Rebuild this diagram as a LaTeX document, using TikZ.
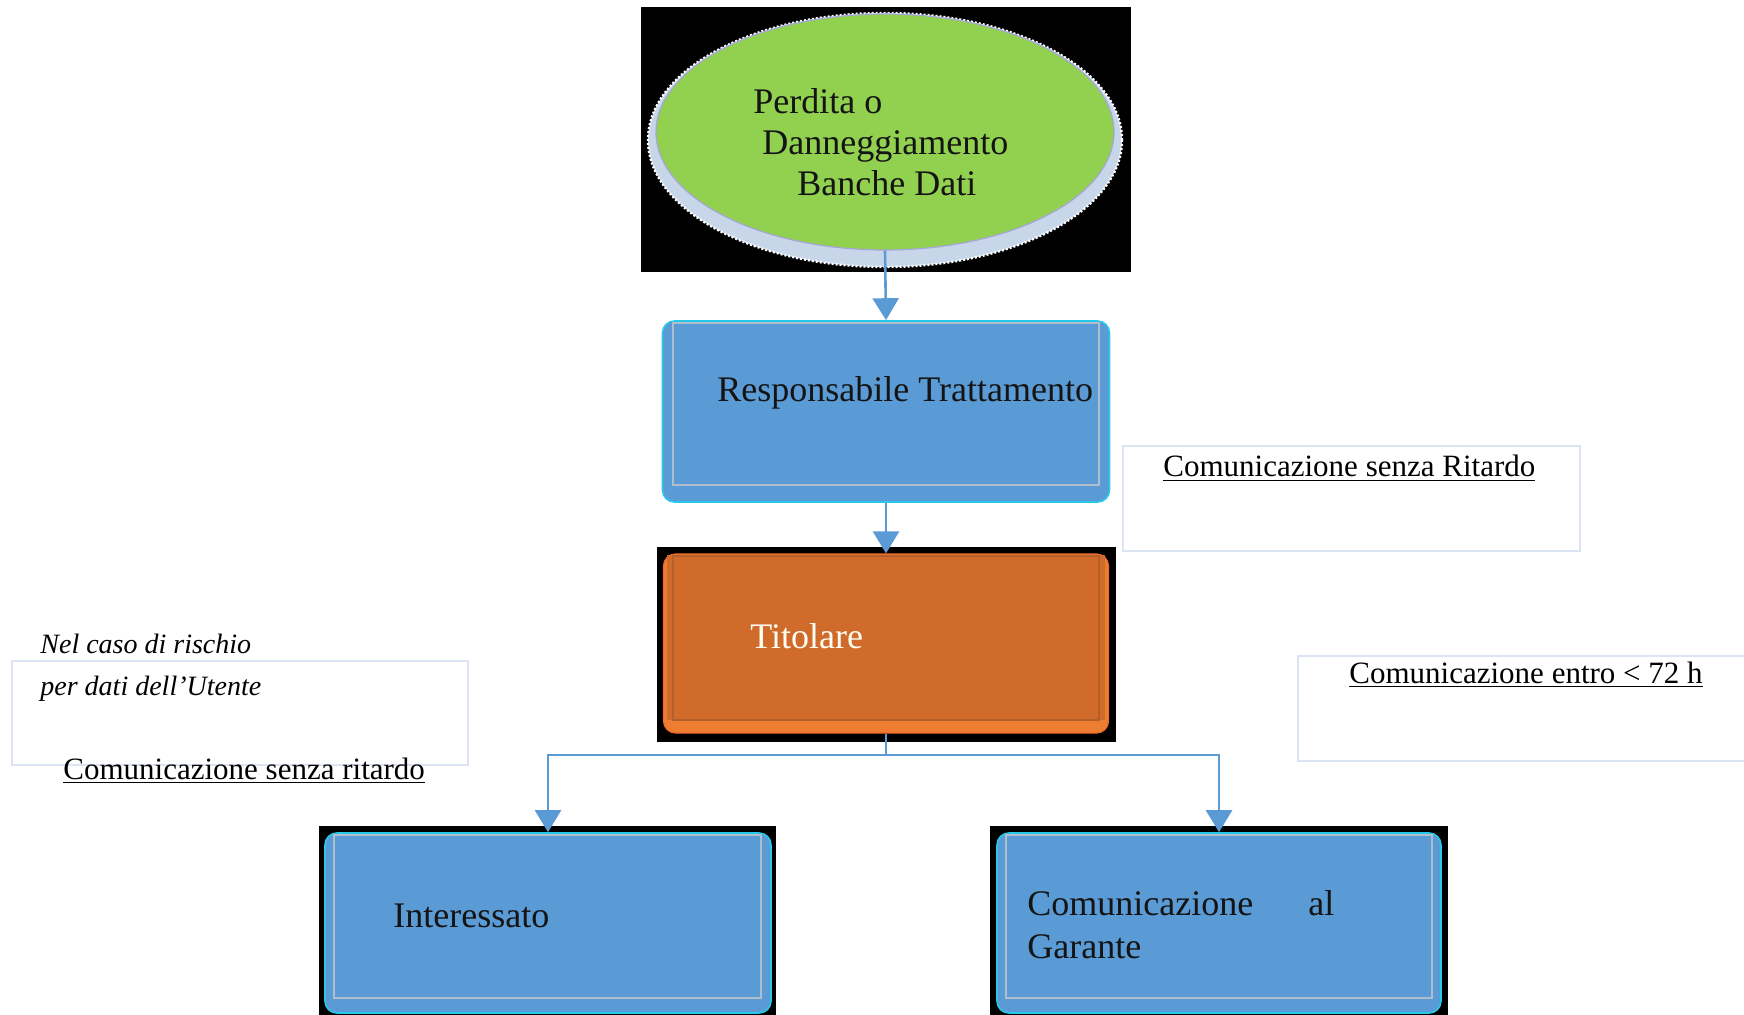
\documentclass[tikz,border=0pt]{standalone}
\usepackage{fontspec}
\setmainfont{Liberation Serif}
\usetikzlibrary{shapes.geometric,arrows.meta}

\definecolor{boxblue}{RGB}{91,155,213}
\definecolor{edgecyan}{RGB}{40,200,235}
\definecolor{framegray}{RGB}{175,190,205}
\definecolor{leafgreen}{RGB}{146,208,80}
\definecolor{ringblue}{RGB}{200,214,234}
\definecolor{rust}{RGB}{209,107,44}
\definecolor{rustlight}{RGB}{237,125,49}
\definecolor{rustdark}{RGB}{178,96,42}
\definecolor{noteedge}{RGB}{220,228,244}
\definecolor{inkdark}{RGB}{20,20,20}

\tikzset{
  bigtext/.style={font=\fontsize{18}{20.5}\selectfont, text=inkdark, inner sep=0pt},
  notetext/.style={font=\fontsize{15.5}{18}\selectfont, inner sep=0pt},
  bluebox/.style={rectangle, rounded corners=6pt, fill=boxblue, draw=edgecyan, line width=0.8pt},
  frame/.style={draw=framegray, line width=0.6pt},
  notebox/.style={draw=noteedge, line width=0.8pt},
  flow/.style={draw=boxblue, line width=1.3pt, -{Triangle[width=13pt,length=11pt]}},
}

\begin{document}
\begin{tikzpicture}[x=0.5pt,y=-0.5pt]
    \useasboundingbox (0,0) rectangle (1744,1015);
    % Evento iniziale
    \fill[black] (641,7) rectangle (1131,272);
    \fill[ringblue] (885,140) ellipse (237 and 127);
    \draw[white, line width=1.2pt, dash pattern=on 1pt off 1pt] (885,140) ellipse (237 and 127);
    \node[ellipse, fill=leafgreen, draw=gray!60!blue!50, line width=0.6pt, minimum width=229pt, minimum height=118pt, inner sep=0pt] (danno) at (885,132) {};
    \node[bigtext, align=left, anchor=north west] (dannotxt) at (753,88) {Perdita o\\\hspace*{4.5pt}Danneggiamento\\\hspace*{22pt}Banche Dati};
    % Responsabile
    \node[bluebox, minimum width=223.5pt, minimum height=90.5pt] (resp) at (886,411.5) {};
    \draw[frame] (673,323) rectangle (1099,485);
    \node[bigtext, anchor=base west] (resptxt) at (717,402) {Responsabile Trattamento};
    % Titolare
    \fill[black] (657,547) rectangle (1116,742);
    \node[rectangle, rounded corners=6pt, fill=rustlight, draw=rustlight!85!red, line width=0.6pt, minimum width=222.5pt, minimum height=89.5pt] (titolare) at (886,643.5) {};
    \fill[rust] (667,555) rectangle (1105,720);
    \draw[rustdark, line width=0.6pt] (673,556) rectangle (1099,720);
    \node[bigtext, text=white!95!yellow, anchor=base west] (titolaretxt) at (750,648) {Titolare};
    % Destinatari
    \fill[black] (319,826) rectangle (776,1015);
    \node[bluebox, minimum width=223pt, minimum height=90pt] (interessato) at (548,923) {};
    \draw[frame] (334,835) rectangle (761,998);
    \node[bigtext, anchor=base west] (interessatotxt) at (393,927) {Interessato};
    \fill[black] (990,826) rectangle (1448,1015);
    \node[bluebox, minimum width=222pt, minimum height=90pt] (garante) at (1219,923) {};
    \draw[frame] (1006,835) rectangle (1432,998);
    \node[bigtext, align=left, anchor=north west] (garantetxt) at (1027,890) {\makebox[153.5pt][l]{Comunicazione\hfill al}\\[1pt]Garante};
    % Frecce
    \draw[flow] (danno.south) -- (resp.north);
    \draw[flow] (resp.south) -- (titolare.north);
    \coordinate (bivio) at (886,755);
    \draw[flow] (titolare.south) -- (bivio) -| (interessato.north);
    \draw[flow] (bivio) -| (garante.north);
    % Note
    \draw[notebox] (1123,446) rectangle (1580,551);
    \node[notetext, anchor=base west] (ritardo) at (1163,477) {\underline{Comunicazione senza Ritardo}};
    \draw[notebox] (1298,656) rectangle (1760,761);
    \node[notetext, anchor=base west] (entro) at (1349,683) {\underline{Comunicazione entro < 72 h}};
    \draw[notebox] (12,661) rectangle (468,765);
    \node[font=\fontsize{14}{21}\selectfont\itshape, align=left, anchor=north west, inner sep=0pt] (rischio) at (40,634) {Nel caso di rischio\\per dati dell’Utente};
    \node[notetext, anchor=base west] (ritardoutente) at (63,779) {\underline{Comunicazione senza ritardo}};
\end{tikzpicture}
\end{document}
